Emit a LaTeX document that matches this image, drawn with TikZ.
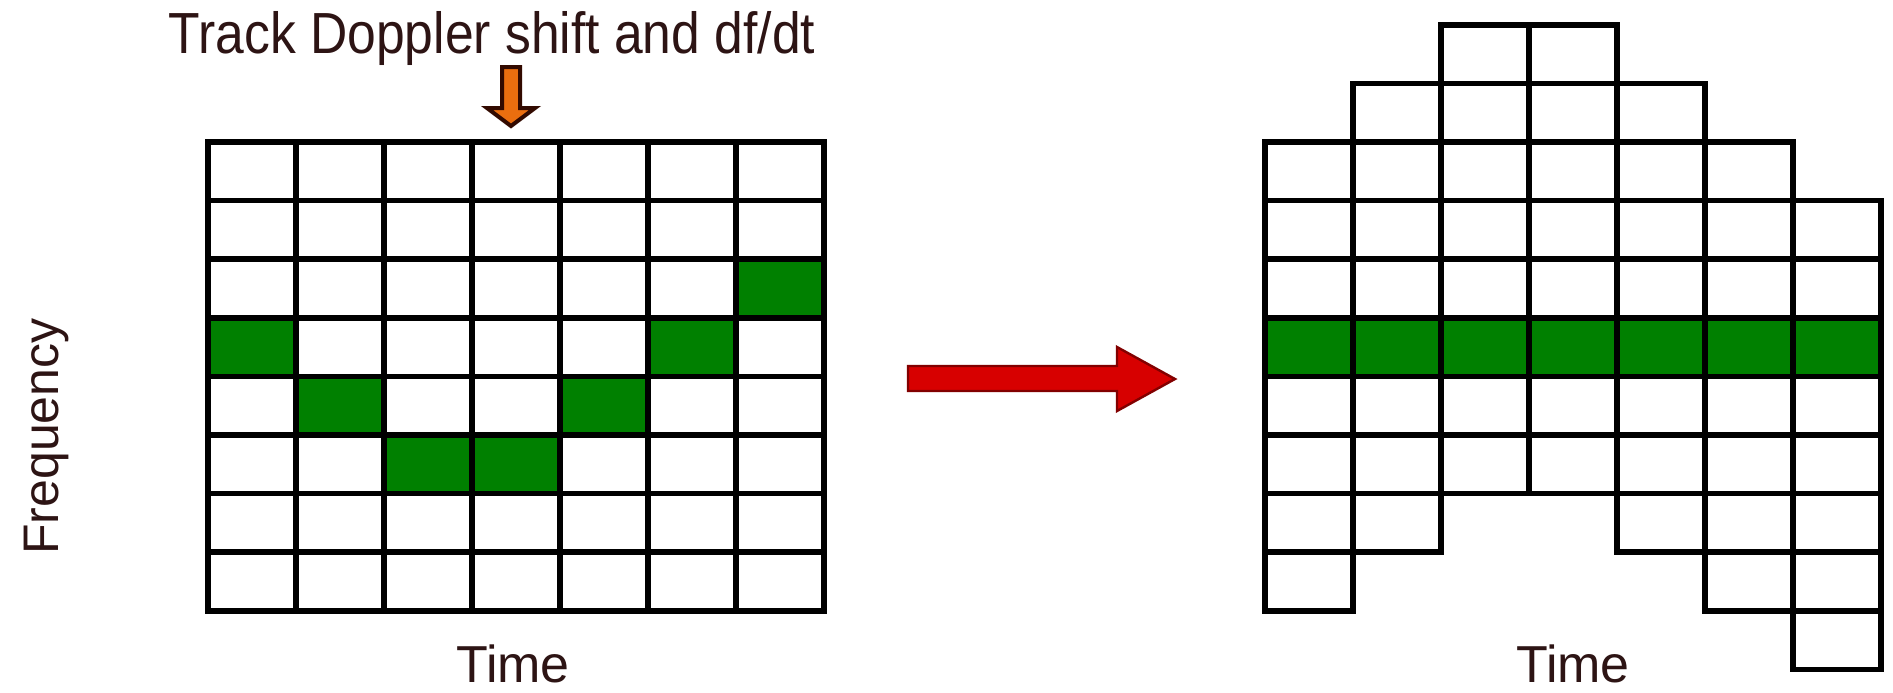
\documentclass[tikz,border=0pt]{standalone}
\usepackage{fontspec}
\setmainfont{Liberation Sans}
\definecolor{txt}{RGB}{45,20,20}
\definecolor{cellgreen}{RGB}{0,128,0}
\definecolor{arrred}{RGB}{215,0,0}
\definecolor{arrredD}{RGB}{130,0,0}
\definecolor{arrorange}{RGB}{235,110,15}
\definecolor{arrbrown}{RGB}{50,10,0}
\begin{document}
\begin{tikzpicture}[x=0.5pt,y=-0.5pt,
  gridline/.style={line width=2.8pt, line cap=rect, draw=black},
  greencell/.style={fill=cellgreen},
  label/.style={text=txt, inner sep=0pt, anchor=base, text depth=0pt}]
\useasboundingbox (0,0) rectangle (1893,692);

% ---------- left grid ----------
\foreach \c/\r in {0/3,1/4,2/5,3/5,4/4,5/3,6/2}
  \fill[greencell] (208+88*\c,142+58.6*\r) rectangle ++(88,58.6);
\foreach \i in {0,...,7}
  \draw[gridline] (208+88*\i,142) -- (208+88*\i,610.8);
\foreach \j in {0,...,8}
  \draw[gridline] (208,142+58.6*\j) -- (824,142+58.6*\j);

% ---------- right grid ----------
\foreach \c in {0,...,6}
  \fill[greencell] (1265+88*\c,24.8+58.6*5) rectangle ++(88,58.6);
\foreach \c/\t/\b in {0/2/9,1/1/8,2/0/7,3/0/7,4/1/8,5/2/9,6/3/10}
  \foreach \k in {\t,...,\b}
    \draw[gridline] (1265+88*\c,24.8+58.6*\k) rectangle ++(88,58.6);

% ---------- arrows ----------
\coordinate (rtail) at (908,378);
\coordinate (rtip) at (1175,379);
\filldraw[fill=arrred, draw=arrredD, line width=1.2pt, line join=miter]
  (rtail) ++(0,-12) -- (1117,366) -- (1117,347) -- (rtip) -- (1117,411)
  -- (1117,391) -- (908,391) -- cycle;

\coordinate (otail) at (511,67);
\coordinate (otip) at (511,126);
\filldraw[fill=arrorange, draw=arrbrown, line width=2pt, line join=miter]
  (502,67) -- (520,67) -- (520,108) -- (535,108) -- (otip) -- (487,108)
  -- (502,108) -- cycle;

% ---------- texts ----------
\node[label, font=\fontsize{29}{32}\selectfont, xscale=0.89] (title) at (492,53.3)
  {Track Doppler shift and df/dt};
\node[label, font=\fontsize{25}{28}\selectfont, rotate=90] (freq) at (58,436.5)
  {Frequency};
\node[label, font=\fontsize{26}{28}\selectfont] (timeL) at (513,682) {Time};
\node[label, font=\fontsize{26}{28}\selectfont] (timeR) at (1573,682) {Time};
\end{tikzpicture}
\end{document}
